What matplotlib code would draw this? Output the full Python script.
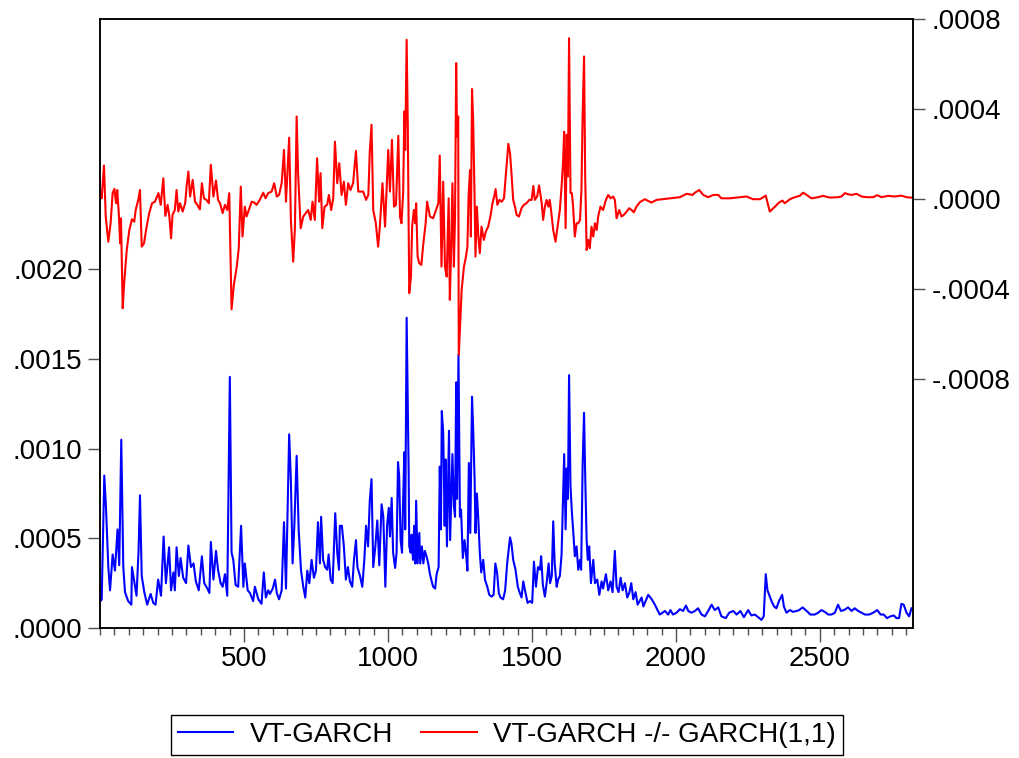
import matplotlib
matplotlib.use("Agg")
import matplotlib.pyplot as plt
import numpy as np
from matplotlib.ticker import FuncFormatter, MultipleLocator, FixedLocator

plt.rcParams["font.family"] = ["Liberation Sans", "DejaVu Sans"]

# VT-GARCH conditional variance (left axis), values in units of 1e-4
vt_obs = [1, 6, 15, 21, 29, 35, 44, 52, 61, 67, 74, 81, 87, 98, 109, 111, 122, 127, 134, 139,
          145, 154, 164, 176, 185, 193, 202, 212, 221, 229, 240, 247, 255, 260, 266, 274, 280, 289, 299, 307,
          316, 325, 333, 343, 354, 362, 373, 380, 385, 394, 403, 410, 419, 426, 434, 442, 451, 457, 463, 471,
          480, 490, 498, 503, 513, 521, 532, 538, 550, 561, 569, 576, 584, 590, 600, 608, 614, 622, 631, 639,
          646, 657, 663, 669, 675, 683, 690, 698, 706, 713, 720, 727, 735, 743, 750, 757, 764, 768, 775, 782,
          789, 794, 801, 808, 817, 824, 830, 833, 840, 847, 854, 861, 868, 876, 882, 889, 894, 903, 911, 918,
          924, 931, 937, 943, 949, 956, 963, 970, 978, 984, 991, 997, 1003, 1007, 1013, 1018, 1025, 1030, 1035, 1039,
          1044, 1049, 1052, 1057, 1060, 1065, 1068, 1072, 1074, 1079, 1082, 1087, 1091, 1095, 1098, 1103, 1109, 1112, 1118, 1123,
          1128, 1134, 1140, 1146, 1152, 1157, 1164, 1169, 1176, 1180, 1184, 1187, 1192, 1197, 1200, 1205, 1208, 1212, 1216, 1221,
          1224, 1229, 1233, 1237, 1240, 1245, 1250, 1254, 1260, 1266, 1272, 1276, 1281, 1286, 1292, 1296, 1301, 1304, 1309, 1314,
          1319, 1324, 1331, 1337, 1345, 1352, 1360, 1367, 1373, 1379, 1385, 1391, 1400, 1407, 1414, 1424, 1429, 1435, 1443, 1451,
          1458, 1464, 1470, 1476, 1485, 1493, 1501, 1507, 1514, 1521, 1528, 1532, 1538, 1545, 1551, 1558, 1563, 1569, 1574, 1579,
          1586, 1591, 1597, 1603, 1608, 1612, 1617, 1621, 1625, 1629, 1634, 1639, 1643, 1649, 1655, 1661, 1667, 1671, 1676, 1681,
          1685, 1690, 1694, 1699, 1705, 1713, 1719, 1727, 1734, 1742, 1747, 1757, 1765, 1773, 1780, 1788, 1794, 1801, 1808, 1815,
          1823, 1831, 1838, 1845, 1852, 1860, 1867, 1881, 1887, 1904, 1916, 1927, 1944, 1962, 1973, 1981, 1990, 2002, 2014, 2025,
          2035, 2043, 2054, 2066, 2077, 2089, 2101, 2112, 2124, 2135, 2147, 2158, 2173, 2185, 2199, 2211, 2224, 2236, 2251, 2262,
          2274, 2286, 2297, 2305, 2312, 2318, 2324, 2332, 2341, 2349, 2358, 2369, 2375, 2384, 2396, 2407, 2419, 2428, 2440, 2454,
          2467, 2482, 2494, 2505, 2517, 2529, 2540, 2552, 2563, 2573, 2584, 2598, 2610, 2621, 2633, 2645, 2656, 2671, 2685, 2699,
          2711, 2722, 2733, 2745, 2757, 2766, 2775, 2783, 2791, 2801, 2810, 2818]
vt_e4 = [1.5, 1.58, 8.5, 6.7, 3.4, 2.1, 4.1, 3.2, 5.5, 3.5, 10.5, 3.4, 2.0, 1.5, 1.3, 3.4, 2.3, 1.8, 4.3, 7.4,
         2.9, 2.0, 1.3, 1.9, 1.4, 1.3, 2.7, 1.8, 5.1, 2.5, 4.5, 2.1, 3.1, 2.1, 4.5, 2.9, 3.9, 2.8, 2.5, 4.6,
         3.4, 3.6, 2.6, 2.1, 4.0, 2.5, 2.2, 1.95, 4.8, 2.7, 4.3, 3.25, 2.5, 2.3, 3.0, 1.8, 14.0, 4.2, 3.8, 2.4,
         2.3, 5.7, 2.3, 3.6, 2.1, 1.95, 1.5, 2.3, 1.6, 1.35, 3.1, 1.7, 2.1, 1.9, 2.2, 2.7, 1.95, 1.6, 2.1, 5.9,
         2.2, 10.8, 8.2, 3.6, 5.7, 9.6, 5.5, 3.25, 2.3, 1.7, 3.2, 2.5, 3.8, 2.8, 3.2, 5.9, 3.6, 6.2, 3.8, 3.4,
         3.25, 4.1, 2.7, 2.5, 6.4, 4.2, 3.25, 5.7, 5.7, 4.55, 2.7, 3.4, 2.6, 2.3, 3.8, 4.9, 3.4, 2.9, 2.3, 3.8,
         5.7, 4.55, 7.1, 8.3, 3.4, 4.5, 6.0, 3.5, 6.9, 6.2, 2.3, 5.7, 6.7, 5.1, 7.25, 4.2, 3.35, 4.2, 9.25, 8.5,
         4.9, 4.2, 6.6, 9.8, 5.5, 17.3, 13.5, 8.6, 4.55, 4.2, 5.2, 3.8, 5.7, 3.6, 7.1, 3.6, 5.3, 3.6, 4.55, 3.6,
         4.3, 4.0, 3.6, 3.0, 2.6, 2.3, 2.2, 3.0, 3.4, 9.0, 5.5, 12.1, 10.9, 5.7, 9.4, 4.55, 7.2, 11.0, 4.9, 7.9,
         9.7, 6.8, 6.2, 13.7, 7.2, 15.25, 6.2, 6.6, 3.9, 4.9, 4.0, 3.2, 9.2, 5.3, 12.9, 11.1, 8.3, 5.3, 7.5, 6.0,
         4.2, 3.1, 3.8, 2.7, 2.3, 1.85, 1.75, 1.85, 3.6, 3.1, 1.95, 1.7, 1.6, 2.1, 3.6, 5.05, 4.7, 3.8, 3.25, 2.3,
         1.95, 1.7, 2.6, 2.1, 1.4, 1.5, 1.4, 3.7, 2.3, 3.4, 3.25, 4.0, 2.4, 1.75, 2.5, 3.6, 2.5, 2.9, 5.95, 3.6,
         2.3, 2.7, 2.9, 4.1, 7.25, 9.7, 5.5, 8.9, 7.2, 14.1, 7.9, 6.4, 5.5, 4.0, 4.55, 3.25, 3.8, 3.25, 9.0, 12.0,
         8.5, 4.9, 3.8, 4.55, 2.5, 3.8, 2.5, 2.7, 1.85, 2.6, 2.2, 3.0, 2.1, 2.6, 2.0, 4.3, 2.3, 2.0, 2.8, 2.1,
         2.5, 1.7, 1.95, 2.5, 1.6, 2.0, 1.3, 1.7, 1.2, 1.85, 1.6, 1.3, 0.75, 0.95, 0.75, 1.0, 0.75, 0.85, 1.05, 0.95,
         1.25, 0.95, 0.85, 0.95, 1.1, 0.75, 0.65, 0.95, 1.3, 1.0, 1.15, 0.65, 0.55, 0.85, 0.95, 0.75, 0.95, 0.6, 1.0, 0.7,
         0.75, 0.6, 0.45, 0.65, 3.0, 2.1, 1.85, 1.5, 1.2, 1.1, 1.5, 1.85, 1.2, 0.85, 1.0, 0.9, 0.95, 1.0, 1.15, 0.95,
         0.75, 0.75, 0.85, 1.0, 0.9, 0.75, 0.75, 0.85, 1.3, 0.95, 1.0, 1.15, 0.95, 1.1, 0.95, 0.85, 0.75, 0.75, 0.85, 1.0,
         0.75, 0.75, 0.55, 0.65, 0.7, 0.55, 0.55, 1.35, 1.3, 0.85, 0.65, 1.1]

# difference VT-GARCH minus GARCH(1,1) (right axis), values in units of 1e-4
diff_obs = [2, 6, 14, 20, 29, 37, 44, 50, 56, 60, 66, 70, 73, 79, 84, 93, 102, 111, 119, 124,
            133, 139, 145, 153, 162, 171, 181, 191, 203, 211, 220, 227, 235, 241, 247, 252, 260, 266, 272, 278,
            287, 296, 301, 307, 313, 322, 330, 338, 347, 354, 361, 370, 378, 385, 394, 403, 410, 417, 426, 434,
            442, 449, 457, 465, 475, 482, 489, 495, 503, 509, 517, 527, 536, 544, 555, 567, 575, 584, 596, 605,
            614, 622, 631, 639, 646, 657, 663, 671, 677, 683, 688, 697, 706, 715, 723, 732, 738, 746, 754, 761,
            766, 772, 780, 789, 795, 803, 810, 816, 824, 831, 839, 847, 854, 862, 870, 879, 889, 897, 905, 914,
            924, 932, 937, 943, 949, 958, 966, 972, 981, 990, 1001, 1007, 1014, 1021, 1028, 1036, 1042, 1047, 1053, 1057,
            1060, 1065, 1069, 1074, 1080, 1084, 1090, 1095, 1098, 1103, 1109, 1116, 1123, 1131, 1136, 1146, 1157, 1167, 1175, 1180,
            1186, 1192, 1198, 1204, 1211, 1215, 1220, 1224, 1229, 1233, 1237, 1240, 1244, 1246, 1256, 1264, 1271, 1276, 1280, 1285,
            1288, 1292, 1296, 1301, 1304, 1309, 1314, 1319, 1325, 1333, 1340, 1348, 1357, 1363, 1369, 1374, 1380, 1387, 1395, 1403,
            1410, 1418, 1424, 1429, 1435, 1441, 1447, 1455, 1464, 1472, 1481, 1491, 1499, 1505, 1510, 1518, 1525, 1534, 1539, 1545,
            1551, 1557, 1562, 1567, 1574, 1582, 1589, 1597, 1603, 1608, 1612, 1617, 1621, 1625, 1629, 1634, 1639, 1643, 1649, 1655,
            1661, 1667, 1672, 1676, 1681, 1685, 1690, 1696, 1701, 1707, 1713, 1719, 1725, 1730, 1738, 1747, 1757, 1765, 1773, 1782,
            1788, 1794, 1803, 1811, 1819, 1829, 1838, 1846, 1854, 1863, 1875, 1892, 1915, 1933, 1979, 2014, 2037, 2058, 2066, 2081,
            2095, 2112, 2130, 2147, 2158, 2187, 2222, 2245, 2268, 2292, 2312, 2326, 2344, 2358, 2370, 2378, 2396, 2413, 2430, 2442,
            2454, 2471, 2494, 2511, 2535, 2563, 2575, 2587, 2598, 2610, 2627, 2645, 2662, 2685, 2699, 2714, 2737, 2760, 2783, 2801,
            2818]
diff_e4 = [0.3, 0.04, 1.5, -0.77, -1.89, -1.07, 0.27, 0.46, -0.18, 0.41, -0.77, -1.96, -0.85, -4.85, -3.74, -2.26, -1.37, -0.89, -1.0, -0.48,
           -0.03, 0.41, -2.11, -1.96, -1.22, -0.62, -0.18, -0.11, 0.27, -0.25, 0.93, -0.74, -0.25, -0.77, -1.74, -0.70, -0.48, 0.41, -0.55, -0.18,
           -0.55, -0.18, 0.59, 1.23, 0.12, 0.86, -0.11, -0.25, -0.45, 0.71, 0.04, -0.03, -0.18, 1.53, 0.12, 0.83, -0.03, -0.18, -0.62, -0.25,
           -0.48, 0.27, -4.9, -3.81, -3.0, -2.18, 0.56, -1.66, -0.33, -0.77, -0.48, -0.11, -0.15, -0.25, -0.03, 0.29, 0.04, 0.27, 0.34, 0.71,
           0.12, 0.19, 0.71, 2.19, -0.11, 2.74, -0.92, -2.78, -1.29, 3.68, 1.16, -1.29, -0.77, -0.62, -0.48, -0.92, -0.11, -0.92, 1.82, -0.11,
           1.16, -1.29, -0.33, -0.25, 0.19, -0.48, 0.04, 2.56, 0.71, 1.60, 0.19, 0.78, -0.25, 0.71, 0.41, 0.71, 2.15, 0.34, 0.34, 0.34,
           -0.03, 0.19, 2.12, 3.31, -0.48, -1.07, -2.11, -1.2, 0.71, -1.22, 2.19, 0.34, 2.64, -0.33, -0.25, 2.82, -0.77, -1.07, 0.34, 3.9,
           2.19, 7.09, 3.23, -4.18, -3.44, -1.22, -0.48, -1.07, -0.18, -2.55, -2.85, -2.92, -1.96, -1.07, -0.11, -0.77, -0.85, -0.48, -0.18, 1.94,
           -3.0, 0.78, -3.0, -3.44, 0.04, -4.48, -1.96, 0.71, -3.0, -0.77, 6.05, 2.79, 3.68, -6.93, -4.04, -3.0, -2.55, -2.11, 0.12, 1.30,
           -1.66, 4.9, 3.53, -0.03, -2.55, -0.33, -1.66, -2.4, -1.22, -1.81, -1.44, -1.22, -0.70, -0.18, 0.12, 0.45, -0.25, -0.03, -0.11, 0.04,
           1.16, 2.46, 2.05, 1.16, -0.03, -0.33, -0.70, -0.77, -0.40, -0.25, -0.18, -0.03, -0.03, 0.59, -0.03, 0.12, 0.61, -0.18, -0.92, -0.33,
           -0.03, -0.33, -0.03, -0.55, -1.37, -1.89, -1.22, -0.48, 0.56, 1.6, 3.0, -1.29, 2.86, 1.01, 7.16, 0.27, 0.27, -0.33, -1.66, -1.07,
           -1.07, -0.92, 0.41, 3.68, 6.35, 1.01, -2.26, -1.81, -2.18, -1.22, -1.66, -1.07, -1.37, -0.77, -0.33, -0.48, -0.03, 0.19, 0.04, 0.12,
           -0.03, -0.85, -0.48, -0.77, -0.70, -0.55, -0.40, -0.48, -0.58, -0.33, -0.13, 0.0, -0.15, -0.03, 0.04, 0.09, 0.24, 0.19, 0.29, 0.41,
           0.19, 0.09, 0.19, 0.19, 0.04, 0.04, 0.09, 0.12, 0.0, 0.0, 0.16, -0.55, -0.33, -0.15, -0.06, -0.18, 0.0, 0.09, 0.15, 0.29,
           0.19, 0.04, 0.09, 0.15, 0.07, 0.09, 0.12, 0.27, 0.22, 0.19, 0.24, 0.12, 0.09, 0.09, 0.18, 0.09, 0.15, 0.12, 0.16, 0.09,
           0.07]

left_ticks = [0.0, 0.0005, 0.0010, 0.0015, 0.0020]
right_ticks = [-0.0008, -0.0004, 0.0, 0.0004, 0.0008]
x_major = [500, 1000, 1500, 2000, 2500]


def dot_fmt(v, pos=None):
    s = f"{v:.4f}"
    return s.replace("0.", ".", 1)


vt = np.array(vt_e4) * 1e-4
diff = np.array(diff_e4) * 1e-4

fig = plt.figure(figsize=(10.2, 7.58), dpi=100)
ax = fig.add_axes([0.098, 0.1715, 0.797, 0.803])
ax2 = ax.twinx()

l1, = ax.plot(vt_obs, vt, color="#0000ff", lw=1.5, label="VT-GARCH")
l2, = ax2.plot(diff_obs, diff, color="#ff0000", lw=1.5, label="VT-GARCH -/- GARCH(1,1)")

ax.set_xlim(0, 2823)
ax.set_ylim(0, 0.003394)
ax2.set_ylim(-0.001907, 0.0008)

ax.yaxis.set_major_locator(FixedLocator(left_ticks))
ax2.yaxis.set_major_locator(FixedLocator(right_ticks))
ax.yaxis.set_major_formatter(FuncFormatter(dot_fmt))
ax2.yaxis.set_major_formatter(FuncFormatter(dot_fmt))
ax.xaxis.set_major_locator(FixedLocator(x_major))
ax.xaxis.set_minor_locator(MultipleLocator(50))

tick_col = "#505050"
ax.tick_params(axis="x", which="major", direction="out", length=10, width=1, color=tick_col,
               labelsize=20, pad=3)
ax.tick_params(axis="x", which="minor", direction="out", length=5, width=1, color=tick_col)
ax.tick_params(axis="y", direction="out", length=8.5, width=1, color=tick_col, labelsize=20, pad=4)
ax2.tick_params(axis="y", direction="out", length=8.5, width=1, color=tick_col, labelsize=20, pad=5)

for a in (ax, ax2):
    for sp in a.spines.values():
        sp.set_linewidth(1.1)
        sp.set_color("black")

leg = fig.legend([l1, l2], [l1.get_label(), l2.get_label()], loc="center",
                 bbox_to_anchor=(0.497, 0.0303), ncol=2, fontsize=20, frameon=True,
                 fancybox=False, edgecolor="black", framealpha=1, handlelength=2.0,
                 columnspacing=1.0, handletextpad=0.6, borderpad=0.25, borderaxespad=0)
leg.get_frame().set_linewidth(1.0)

fig.savefig("out.png", dpi=100)
plt.close(fig)
